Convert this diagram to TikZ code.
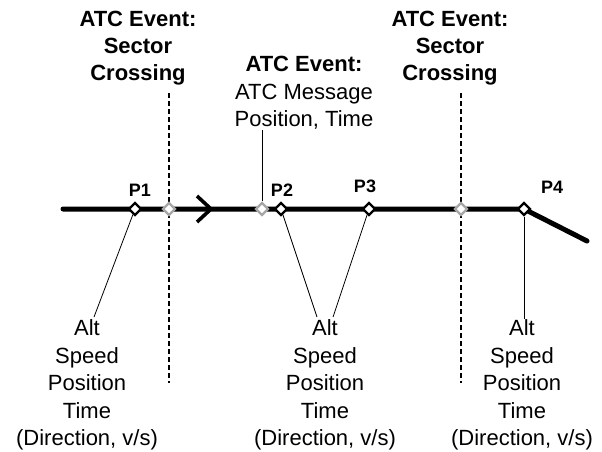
\documentclass[tikz,border=0pt]{standalone}
\usepackage{fontspec}
\setmainfont{Liberation Sans}
\usetikzlibrary{shapes.geometric,backgrounds}
\definecolor{evgrey}{HTML}{A6A6A6}
\begin{document}
\begin{tikzpicture}[x=1pt,y=-1pt,
  ptmark/.style={diamond, draw=black, fill=white, line width=2.4pt, inner sep=0pt, minimum size=13pt},
  gmark/.style={ptmark, draw=evgrey},
  plabel/.style={font=\fontsize{18}{20}\selectfont\bfseries},
  txt/.style={align=center, font=\fontsize{22}{27.5}\selectfont},
  btxt/.style={align=center, font=\fontsize{22}{27}\selectfont\bfseries},
  leader/.style={line width=0.8pt},
  sector/.style={line width=1.3pt, dash pattern=on 5pt off 3pt},
  track/.style={line width=5pt, line cap=round, line join=miter}]
\useasboundingbox (0,0) rectangle (602,452);

% track points
\node[ptmark] (p1) at (135,209) {};
\node[gmark]  (g1) at (169,209) {};
\node[gmark]  (g2) at (262,209) {};
\node[ptmark] (p2) at (281,209) {};
\node[ptmark] (p3) at (369,209) {};
\node[gmark]  (g3) at (461,209) {};
\node[ptmark] (p4) at (524,209) {};
\coordinate (s) at (63,209);
\coordinate (e) at (587,241);

% sector crossing dashed lines
\coordinate (d1t) at (169,93);
\coordinate (d1b) at (169,383);
\coordinate (d2t) at (461,93);
\coordinate (d2b) at (461,383);

\begin{scope}[on background layer]
  \draw[track] (s) -- (p4.center) -- (e);
  \draw[sector] (d1t) -- (d1b);
  \draw[sector] (d2t) -- (d2b);
\end{scope}

% direction chevron
\draw[line width=3.6pt, line join=miter] (197,196) -- (211,209) -- (197,222);

% point labels
\node[plabel] (lp1) at (140,190) {P1};
\node[plabel] (lp2) at (282,190) {P2};
\node[plabel] (lp3) at (365,186) {P3};
\node[plabel] (lp4) at (552,187) {P4};

% top event labels
\node[btxt] (ev1) at (138,48) {ATC Event:\\Sector\\Crossing};
\node[btxt] (ev2) at (450,48) {ATC Event:\\Sector\\Crossing};
\node[txt]  (ev3) at (304,93) {\textbf{ATC Event:}\\ATC Message\\Position, Time};
\coordinate (m1) at (262,130);
\draw[leader] (m1) -- (g2);

% bottom data blocks
\node[txt] (b1) at (87,385) {Alt\\Speed\\Position\\Time\\(Direction, v/s)};
\node[txt] (b2) at (325,385) {Alt\\Speed\\Position\\Time\\(Direction, v/s)};
\node[txt] (b3) at (522,385) {Alt\\Speed\\Position\\Time\\(Direction, v/s)};

\coordinate (l1) at (94,317);
\coordinate (l2a) at (317,317);
\coordinate (l2b) at (333,317);
\coordinate (l3) at (524,319);
\draw[leader] (p1) -- (l1);
\draw[leader] (p2) -- (l2a);
\draw[leader] (p3) -- (l2b);
\draw[leader] (p4) -- (l3);
\end{tikzpicture}
\end{document}
